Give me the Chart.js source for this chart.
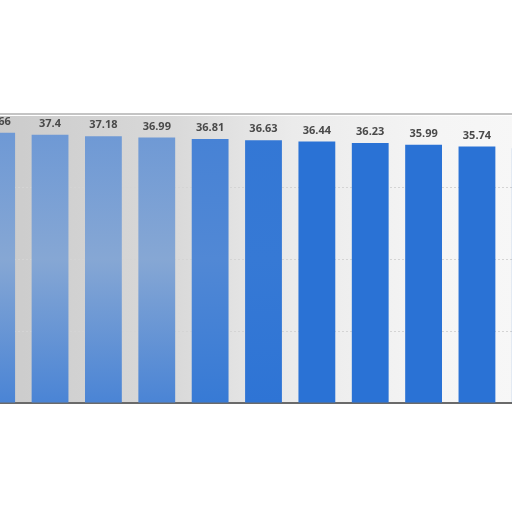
<!DOCTYPE html>
<html>
<head>
<meta charset="utf-8">
<script src="https://cdn.jsdelivr.net/npm/chart.js@4/dist/chart.umd.min.js"></script>
<style>
    html, body { margin: 0; padding: 0; background: #fff; overflow: hidden; }
    #wrap { position: absolute; left: -30px; top: 0; width: 587px; height: 512px; }
</style>
</head>
<body>
<div id="wrap"><canvas id="barChart" width="587" height="512"></canvas></div>
<script>
// data (first label was cut off: "...66", last bar's label is off the edge)
const years = ["2013", "2014", "2015", "2016", "2017", "2018", "2019", "2020", "2021", "2022", "2023"];
const values = [37.66, 37.4, 37.18, 36.99, 36.81, 36.63, 36.44, 36.23, 35.99, 35.74, 35.5];
const yTicks = [0, 10, 20, 30, 40];

const BLUE = [42, 114, 213];
const GREY = [196, 202, 212];

function mix(a) {
    const c = BLUE.map((v, k) => Math.round(v + (GREY[k] - v) * a));
    return "rgb(" + c.join(",") + ")";
}

// how washed out each bar looks (the left side of the photo is blurred)
function fadeFor(i) {
    if (i < 4) return 0.6;
    if (i === 4) return 0.25;
    if (i === 5) return 0.08;
    return 0;
}

/* ===============================
   background + frame + value labels
=============================== */
const decor = {
    id: "decor",
    beforeDraw(chart) {
        const { ctx, chartArea } = chart;
        const g = ctx.createLinearGradient(0, 0, chart.width, 0);
        g.addColorStop(0.0, "#c9c9c9");
        g.addColorStop(0.35, "#d9d9d9");
        g.addColorStop(0.55, "#ebebeb");
        g.addColorStop(0.8, "#f5f5f5");
        g.addColorStop(1.0, "#f8f8f8");
        ctx.save();
        ctx.fillStyle = g;
        ctx.fillRect(chartArea.left, chartArea.top, chartArea.right - chartArea.left, chartArea.bottom - chartArea.top);
        ctx.strokeStyle = "#c4c4c4";
        ctx.lineWidth = 2;
        ctx.beginPath();
        ctx.moveTo(0, chartArea.top - 2);
        ctx.lineTo(chart.width, chartArea.top - 2);
        ctx.stroke();
        ctx.restore();
    },
    afterDatasetsDraw(chart) {
        const { ctx } = chart;
        const meta = chart.getDatasetMeta(0);
        ctx.save();
        ctx.font = "bold 11px 'Open Sans'";
        ctx.fillStyle = "#4a4a4a";
        ctx.textAlign = "center";
        ctx.textBaseline = "alphabetic";
        meta.data.forEach((bar, i) => {
            ctx.fillText(String(values[i]), bar.x, bar.y - 8);
        });
        ctx.restore();
    }
};

const ctx = document.getElementById("barChart").getContext("2d");

new Chart(ctx, {
    type: "bar",
    data: {
        labels: years,
        datasets: [{
            data: values,
            backgroundColor: (c) => {
                const a = fadeFor(c.dataIndex);
                const area = c.chart.chartArea;
                if (!area || a === 0) return mix(0);
                const g = c.chart.ctx.createLinearGradient(0, area.top, 0, area.bottom);
                g.addColorStop(0, mix(a * 0.7));
                g.addColorStop(0.5, mix(a));
                g.addColorStop(1, mix(a * 0.35));
                return g;
            },
            barPercentage: 0.69,
            categoryPercentage: 1.0
        }]
    },
    plugins: [decor],
    options: {
        responsive: false,
        animation: false,
        layout: { padding: { top: 116, bottom: 109, left: 0, right: 0 } },
        plugins: {
            legend: { display: false },
            tooltip: { enabled: false }
        },
        scales: {
            x: {
                ticks: { display: false },
                grid: { display: false, drawTicks: false },
                border: { display: true, color: "#6a6a6a", width: 2 }
            },
            y: {
                min: yTicks[0],
                max: yTicks[yTicks.length - 1],
                afterBuildTicks: (axis) => { axis.ticks = yTicks.map(v => ({ value: v })); },
                ticks: { display: false },
                grid: {
                    drawTicks: false,
                    color: (c) => (c.tick.value === 0 || c.tick.value === 40) ? "rgba(0,0,0,0)" : "#d4d4d4",
                    lineWidth: 1
                },
                border: { display: false, dash: [2, 2] }
            }
        }
    }
});
</script>
</body>
</html>
